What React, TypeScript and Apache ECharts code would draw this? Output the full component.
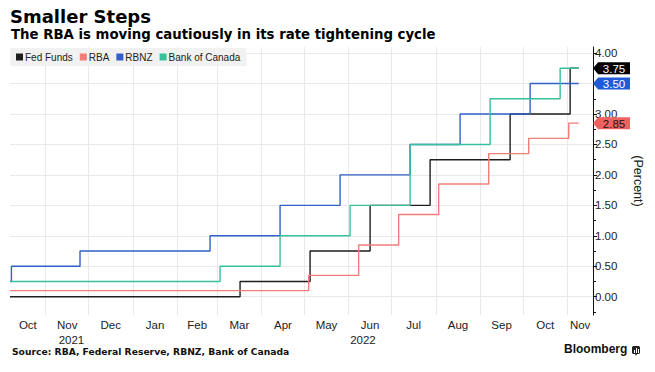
import React, { useEffect, useRef } from 'react';
import * as echarts from 'echarts';

// ---- data ----
const fedFundsDates = ['2021-10-07', '2022-03-17', '2022-05-05', '2022-06-16', '2022-07-28', '2022-09-22', '2022-11-03'];
const fedFundsValues = [0.0, 0.25, 0.75, 1.5, 2.25, 3.0, 3.75];

const rbaDates = ['2021-10-07', '2022-05-04', '2022-06-08', '2022-07-06', '2022-08-03', '2022-09-07', '2022-10-05', '2022-11-02'];
const rbaValues = [0.1, 0.35, 0.85, 1.35, 1.85, 2.35, 2.6, 2.85];

const rbnzDates = ['2021-10-07', '2021-10-08', '2021-11-25', '2022-02-24', '2022-04-14', '2022-05-26', '2022-07-14', '2022-08-18', '2022-10-06'];
const rbnzValues = [0.25, 0.5, 0.75, 1.0, 1.5, 2.0, 2.5, 3.0, 3.5];

const bocDates = ['2021-10-07', '2022-03-03', '2022-04-14', '2022-06-02', '2022-07-14', '2022-09-08', '2022-10-27'];
const bocValues = [0.25, 0.5, 1.0, 1.5, 2.5, 3.25, 3.75];

const seriesNames = ['Fed Funds', 'RBA', 'RBNZ', 'Bank of Canada'];
const dataEnd = '2022-11-09';
const axisStart = '2021-10-07';
const axisEnd = '2022-11-19';

const yMajorTicks = [0, 0.5, 1, 1.5, 2, 2.5, 3, 3.5, 4];
// 3.50 is covered by the RBNZ tag in the reference
const yTickLabels = [0, 0.5, 1, 1.5, 2, 2.5, 3, 4];
const yMinorTicks = [-0.25, 0.25, 0.75, 1.25, 1.75, 2.25, 2.75, 3.25, 3.75];
const monthNames = ['Jan', 'Feb', 'Mar', 'Apr', 'May', 'Jun', 'Jul', 'Aug', 'Sep', 'Oct', 'Nov', 'Dec'];

// ---- styles ----
const lineColors = ['#1e1e1e', '#f27d78', '#3060c8', '#36c09c'];
const tagColors = ['#000000', '#1f5bd8', '#f0625f'];
const tagTextColors = ['#ffffff', '#ffffff', '#2a1010'];

function ts(s: string): number {
  const [y, m, d] = s.split('-').map(Number);
  return Date.UTC(y, m - 1, d);
}

function buildSeriesData(dates: string[], values: number[]) {
  const out: [number, number][] = dates.map((d, i) => [ts(d), values[i]]);
  out.push([ts(dataEnd), values[values.length - 1]]);
  return out;
}

const TAG_PATH = 'path://M0,6 L5,0 L36,0 L36,12 L5,12 Z';

export default function App() {
  const ref = useRef<HTMLDivElement>(null);

  useEffect(() => {
    if (!ref.current) return;
    const chart = echarts.init(ref.current, undefined, { renderer: 'svg' });

    const xMin = ts(axisStart);
    const xMax = ts(axisEnd);

    const monthStarts: number[] = [];
    const monthMids: number[] = [];
    const s0 = new Date(xMin);
    let y = s0.getUTCFullYear();
    let m = s0.getUTCMonth();
    while (Date.UTC(y, m, 1) <= xMax) {
      const start = Date.UTC(y, m, 1);
      const next = Date.UTC(y, m + 1, 1);
      if (start > xMin) monthStarts.push(start);
      const a = Math.max(start, xMin);
      const b = Math.min(next, xMax);
      monthMids.push((a + b) / 2);
      m += 1;
      if (m > 11) { m = 0; y += 1; }
    }
    const yearMids: number[] = [];
    for (let yr = new Date(xMin).getUTCFullYear(); yr <= new Date(xMax).getUTCFullYear(); yr++) {
      const a = Math.max(Date.UTC(yr, 0, 1), xMin);
      const b = Math.min(Date.UTC(yr + 1, 0, 1), xMax);
      yearMids.push((a + b) / 2);
    }

    const all = [
      { dates: fedFundsDates, values: fedFundsValues, tag: 0 },
      { dates: rbaDates, values: rbaValues, tag: 2 },
      { dates: rbnzDates, values: rbnzValues, tag: 1 },
      { dates: bocDates, values: bocValues, tag: -1 },
    ];

    const series = all.map((s, i) => {
      const last = s.values[s.values.length - 1];
      const o: any = {
        name: seriesNames[i],
        type: 'line',
        step: 'end',
        symbol: 'none',
        showSymbol: false,
        xAxisIndex: 0,
        yAxisIndex: 0,
        data: buildSeriesData(s.dates, s.values),
        lineStyle: { width: 1.4, color: lineColors[i] },
        itemStyle: { color: lineColors[i] },
        z: 3,
      };
      if (s.tag >= 0) {
        o.markPoint = {
          silent: true,
          symbol: TAG_PATH,
          symbolSize: [37, 12],
          symbolOffset: [18.5, 0],
          itemStyle: { color: tagColors[s.tag] },
          label: {
            show: true,
            position: 'inside',
            offset: [2.5, 0.5],
            color: tagTextColors[s.tag],
            fontSize: 11.5,
            fontFamily: 'Liberation Sans, Arial, sans-serif',
            formatter: (p: any) => Number(p.value).toFixed(2),
          },
          data: [{ coord: [xMax, last], value: last }],
          z: 10,
        };
      }
      return o;
    });

    const labelFont = 'Liberation Sans, Arial, sans-serif';

    chart.setOption({
      animation: false,
      backgroundColor: '#ffffff',
      grid: { left: 10, right: 62, top: 47, bottom: 57, containLabel: false },
      legend: {
        left: 10,
        top: 48,
        icon: 'rect',
        itemWidth: 7,
        itemHeight: 7,
        itemGap: 7,
        padding: [4, 6, 4, 6],
        backgroundColor: '#f1f1f1',
        selectedMode: false,
        data: seriesNames,
        textStyle: { fontSize: 10, color: '#222', fontFamily: labelFont, padding: [0, 0, 0, -3] },
      },
      xAxis: [
        {
          type: 'value',
          min: xMin,
          max: xMax,
          axisLine: { show: false },
          axisTick: { show: false, customValues: monthStarts },
          axisLabel: { show: false, customValues: monthStarts },
          splitLine: { show: true, lineStyle: { color: '#e9e9e9', width: 1 } },
        },
        {
          type: 'value',
          min: xMin,
          max: xMax,
          position: 'bottom',
          axisLine: { show: false },
          axisTick: { show: false, customValues: monthMids },
          splitLine: { show: false },
          axisLabel: {
            show: true,
            customValues: monthMids,
            hideOverlap: false,
            showMinLabel: true,
            showMaxLabel: true,
            margin: 4,
            fontSize: 11.5,
            color: '#222',
            fontFamily: labelFont,
            formatter: (v: number) => monthNames[new Date(v).getUTCMonth()],
          },
        },
        {
          type: 'value',
          min: xMin,
          max: xMax,
          position: 'bottom',
          offset: 15,
          axisLine: { show: false },
          axisTick: { show: false, customValues: yearMids },
          splitLine: { show: false },
          axisLabel: {
            show: true,
            customValues: yearMids,
            hideOverlap: false,
            margin: 4,
            fontSize: 11.5,
            color: '#222',
            fontFamily: labelFont,
            formatter: (v: number) => String(new Date(v).getUTCFullYear()),
          },
        },
      ],
      yAxis: [
        {
          type: 'value',
          position: 'right',
          min: -0.3,
          max: 4.1,
          axisLine: { show: true, lineStyle: { color: '#111', width: 1 } },
          axisTick: { show: true, customValues: yMajorTicks, length: 4, lineStyle: { color: '#111' } },
          axisLabel: {
            show: true,
            customValues: yTickLabels,
            margin: 2,
            fontSize: 11.5,
            color: '#222',
            fontFamily: labelFont,
            formatter: (v: number) => v.toFixed(2),
          },
          splitLine: { show: true, lineStyle: { color: '#e9e9e9', width: 1 } },
          name: '(Percent)',
          nameLocation: 'middle',
          nameRotate: -90,
          nameGap: 38,
          nameTextStyle: { fontSize: 12.5, color: '#222', fontFamily: labelFont },
        },
        {
          type: 'value',
          position: 'right',
          min: -0.3,
          max: 4.1,
          axisLine: { show: false },
          axisTick: { show: true, customValues: yMinorTicks, length: 3, lineStyle: { color: '#111' } },
          axisLabel: { show: false, customValues: yMinorTicks },
          splitLine: { show: false },
        },
      ],
      graphic: [
        {
          type: 'text',
          left: 10,
          top: 7,
          style: { text: 'Smaller Steps', font: 'bold 18px "DejaVu Sans", sans-serif', fill: '#000' },
        },
        {
          type: 'text',
          left: 11,
          top: 28,
          style: {
            text: 'The RBA is moving cautiously in its rate tightening cycle',
            font: 'bold 13.3px "DejaVu Sans", sans-serif',
            fill: '#000',
          },
        },
        {
          type: 'text',
          left: 12,
          top: 347,
          style: {
            text: 'Source: RBA, Federal Reserve, RBNZ, Bank of Canada',
            font: 'bold 9.2px "DejaVu Sans", sans-serif',
            fill: '#111',
          },
        },
        {
          type: 'text',
          left: 564,
          top: 343,
          style: { text: 'Bloomberg', font: 'bold 12px "Liberation Sans", Arial, sans-serif', fill: '#111' },
        },
        {
          type: 'group',
          left: 632,
          top: 346,
          children: [
            { type: 'rect', shape: { x: 0, y: 0, width: 8, height: 8, r: 1.5 }, style: { fill: '#222' } },
            { type: 'polygon', shape: { points: [[3, 8], [5, 8], [4, 10]] }, style: { fill: '#222' } },
            { type: 'rect', shape: { x: 2, y: 4, width: 1, height: 3 }, style: { fill: '#fff' } },
            { type: 'rect', shape: { x: 4, y: 2, width: 1, height: 5 }, style: { fill: '#fff' } },
            { type: 'rect', shape: { x: 6, y: 3, width: 1, height: 4 }, style: { fill: '#fff' } },
          ],
        },
      ],
      series,
    });

    return () => chart.dispose();
  }, []);

  return <div ref={ref} style={{ width: 655, height: 372, position: 'absolute', left: 0, top: 0 }} />;
}
